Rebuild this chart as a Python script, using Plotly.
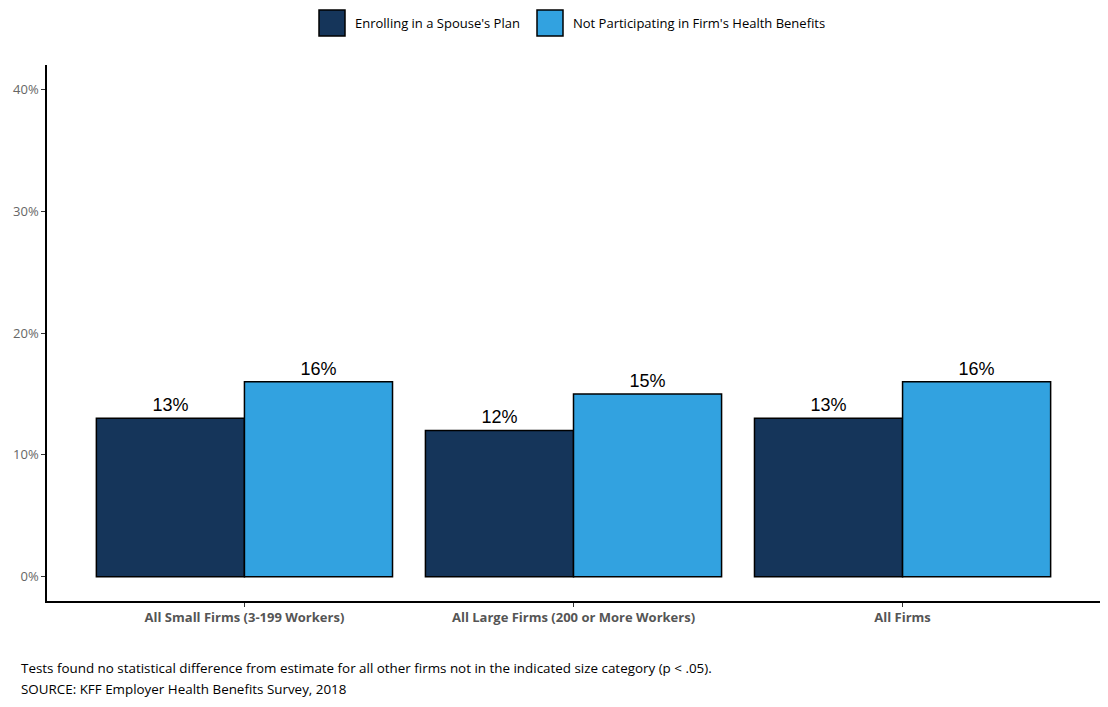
import plotly.graph_objects as go

categories = ["All Small Firms (3-199 Workers)", "All Large Firms (200 or More Workers)", "All Firms"]
series_names = ["Enrolling in a Spouse's Plan", "Not Participating in Firm's Health Benefits"]
spouse_plan = [13, 12, 13]
not_participating = [16, 15, 16]
colors = ["#15355A", "#32A2E0"]
y_ticks = [0, 10, 20, 30, 40]
y_tick_labels = ["0%", "10%", "20%", "30%", "40%"]

W, H = 1108, 707
ML, MR, MT, MB = 47, 8, 65, 106
PW, PH = W - ML - MR, H - MT - MB


def px_x(px):
    return (px - ML) / PW


def px_y(py):
    return (H - MB - py) / PH


fig = go.Figure()
for name, vals, col in zip(series_names, [spouse_plan, not_participating], colors):
    fig.add_trace(go.Bar(
        x=categories, y=vals, name=name, showlegend=False,
        marker=dict(color=col, line=dict(color="black", width=1.5)),
        text=[f"{v}%" for v in vals], textposition="outside",
        textfont=dict(family="Liberation Sans, Arial", size=18, color="black"),
        cliponaxis=False,
    ))

# custom legend with large square swatches
legend_items = [(319, 353), (537, 571)]
for (sx, tx), name, col in zip(legend_items, series_names, colors):
    fig.add_shape(type="rect", xref="paper", yref="paper",
                  x0=px_x(sx), x1=px_x(sx + 26), y0=px_y(36), y1=px_y(10),
                  fillcolor=col, line=dict(color="black", width=1.5))
    fig.add_annotation(text=name, xref="paper", yref="paper", x=px_x(tx), y=px_y(23),
                       xanchor="left", yanchor="middle", showarrow=False,
                       font=dict(size=13, color="black", family="Open Sans"))

fig.update_layout(
    width=W, height=H,
    paper_bgcolor="white", plot_bgcolor="white",
    barmode="group", bargap=0.1, bargroupgap=0,
    margin=dict(l=ML, r=MR, t=MT, b=MB),
    font=dict(family="Open Sans, Liberation Sans", color="#555555"),
    showlegend=False,
)
fig.update_xaxes(
    range=[-0.6, 2.6], showline=True, linecolor="black", linewidth=1.5,
    ticks="outside", ticklen=4, tickcolor="#333333",
    tickfont=dict(size=13, color="#555555", family="Open Sans"),
    tickvals=categories, ticktext=[f"<b>{c}</b>" for c in categories],
    showgrid=False, zeroline=False,
)
fig.update_yaxes(
    range=[-2, 42], showline=True, linecolor="black", linewidth=1.5,
    ticks="outside", ticklen=4, tickcolor="#333333",
    tickvals=y_ticks, ticktext=y_tick_labels,
    tickfont=dict(size=13, color="#666666"),
    showgrid=False, zeroline=False,
)
footnotes = [
    (668, "Tests found no statistical difference from estimate for all other firms not in the indicated size category (p < .05)."),
    (689, "SOURCE: KFF Employer Health Benefits Survey, 2018"),
]
for py, txt in footnotes:
    fig.add_annotation(text=txt, xref="paper", yref="paper", x=px_x(19), y=px_y(py),
                       xanchor="left", yanchor="middle", showarrow=False,
                       font=dict(size=13.4, color="black", family="Open Sans"))
fig.write_html("out.html")
